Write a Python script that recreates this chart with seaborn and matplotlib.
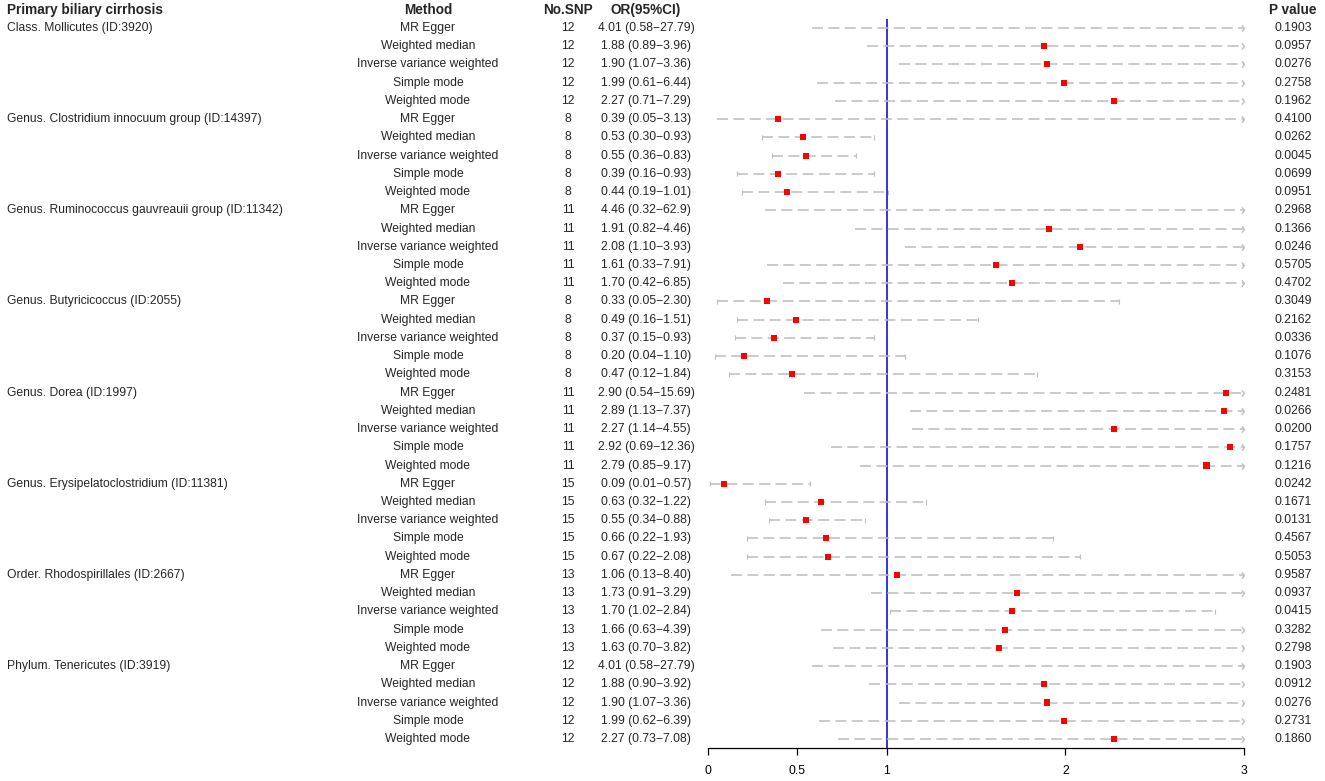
import matplotlib
matplotlib.use("Agg")
import matplotlib.pyplot as plt
import matplotlib.transforms as mtransforms
from matplotlib.path import Path
import numpy as np
import pandas as pd
import seaborn as sns

# ---------------- data ----------------
outcome = "Primary biliary cirrhosis"
groups = ["Class. Mollicutes (ID:3920)",
          "Genus. Clostridium innocuum group (ID:14397)",
          "Genus. Ruminococcus gauvreauii group (ID:11342)",
          "Genus. Butyricicoccus (ID:2055)",
          "Genus. Dorea (ID:1997)",
          "Genus. Erysipelatoclostridium (ID:11381)",
          "Order. Rhodospirillales (ID:2667)",
          "Phylum. Tenericutes (ID:3919)"]
methods = ["MR Egger", "Weighted median", "Inverse variance weighted",
           "Simple mode", "Weighted mode"]
n_snp = [12, 8, 11, 8, 11, 15, 13, 12]

or_val = [4.01, 1.88, 1.90, 1.99, 2.27,
          0.39, 0.53, 0.55, 0.39, 0.44,
          4.46, 1.91, 2.08, 1.61, 1.70,
          0.33, 0.49, 0.37, 0.20, 0.47,
          2.90, 2.89, 2.27, 2.92, 2.79,
          0.09, 0.63, 0.55, 0.66, 0.67,
          1.06, 1.73, 1.70, 1.66, 1.63,
          4.01, 1.88, 1.90, 1.99, 2.27]
ci_lo = [0.58, 0.89, 1.07, 0.61, 0.71,
         0.05, 0.30, 0.36, 0.16, 0.19,
         0.32, 0.82, 1.10, 0.33, 0.42,
         0.05, 0.16, 0.15, 0.04, 0.12,
         0.54, 1.13, 1.14, 0.69, 0.85,
         0.01, 0.32, 0.34, 0.22, 0.22,
         0.13, 0.91, 1.02, 0.63, 0.70,
         0.58, 0.90, 1.07, 0.62, 0.73]
ci_hi = [27.79, 3.96, 3.36, 6.44, 7.29,
         3.13, 0.93, 0.83, 0.93, 1.01,
         62.9, 4.46, 3.93, 7.91, 6.85,
         2.30, 1.51, 0.93, 1.10, 1.84,
         15.69, 7.37, 4.55, 12.36, 9.17,
         0.57, 1.22, 0.88, 1.93, 2.08,
         8.40, 3.29, 2.84, 4.39, 3.82,
         27.79, 3.92, 3.36, 6.39, 7.08]
p_val = [0.1903, 0.0957, 0.0276, 0.2758, 0.1962,
         0.4100, 0.0262, 0.0045, 0.0699, 0.0951,
         0.2968, 0.1366, 0.0246, 0.5705, 0.4702,
         0.3049, 0.2162, 0.0336, 0.1076, 0.3153,
         0.2481, 0.0266, 0.0200, 0.1757, 0.1216,
         0.0242, 0.1671, 0.0131, 0.4567, 0.5053,
         0.9587, 0.0937, 0.0415, 0.3282, 0.2798,
         0.1903, 0.0912, 0.0276, 0.2731, 0.1860]
x_ticks = [0, 0.5, 1, 2, 3]
x_tick_labels = ["0", "0.5", "1", "2", "3"]
col_headers = ["Method", "No.SNP", "OR(95%CI)", "P value"]


def fmt_num(v):
    s = f"{v:.2f}"
    return s if v < 10 or not s.endswith("0") else s.rstrip("0")


rows = []
for gi, g in enumerate(groups):
    for mi, m in enumerate(methods):
        k = gi * 5 + mi
        rows.append(dict(group=g if mi == 0 else "", method=m, nsnp=n_snp[gi],
                         OR=or_val[k], lo=ci_lo[k], hi=ci_hi[k], p=p_val[k],
                         row=k))
df = pd.DataFrame(rows)
df["label"] = [f"{o:.2f} ({fmt_num(l)}\u2212{fmt_num(h)})"
               for o, l, h in zip(df.OR, df.lo, df.hi)]

# ---------------- style ----------------
sns.set_theme(style="white")
plt.rcParams["font.family"] = ["Liberation Sans", "DejaVu Sans"]
plt.rcParams["lines.scale_dashes"] = False

W, H = 1325, 781
fig = plt.figure(figsize=(W / 100, H / 100), dpi=100)

x0_px, x3_px = 708, 1244
axis_px = 748
row0_px, row_step = 28, 18.23
ax = fig.add_axes([x0_px / W, 1 - axis_px / H, (x3_px - x0_px) / W, axis_px / H])
ax.set_xlim(0, 3)
y_top = -row0_px / row_step
y_bot = (axis_px - row0_px) / row_step
ax.set_ylim(y_bot, y_top)
ax.patch.set_alpha(0)

for s in ["top", "left", "right"]:
    ax.spines[s].set_visible(False)
ax.spines["bottom"].set_color("black")
ax.spines["bottom"].set_linewidth(0.9)
ax.set_yticks([])
ax.set_xticks(x_ticks)
ax.set_xticklabels(x_tick_labels, fontsize=8.7)
ax.tick_params(axis="x", direction="out", length=5, width=0.9, color="black",
               pad=7.5, bottom=True, labelcolor="black")

# reference line at 1
ax.plot([1, 1], [y_bot, (19 - row0_px) / row_step], color="#2222E0", lw=1.3,
        zorder=1, solid_capstyle="butt", clip_on=False)

grey = "#BEBEBE"
arrow_path = Path([(-0.8, 1.0), (0, 0), (-0.8, -1.0)],
                  [Path.MOVETO, Path.LINETO, Path.LINETO])
cap_h = 0.14
for r in df.itertuples():
    lo = max(r.lo, 0)
    hi = min(r.hi, 3)
    ax.plot([lo, hi], [r.row, r.row], color=grey, lw=1.15,
            linestyle=(0, (7.9, 3.9)), zorder=2, solid_capstyle="butt",
            dash_capstyle="butt", clip_on=False)
    if r.hi > 3:
        ax.plot([3], [r.row], marker=arrow_path, markersize=4.6,
                markerfacecolor="none", markeredgecolor=grey,
                markeredgewidth=1.0, zorder=2, clip_on=False)
    else:
        ax.vlines([lo, hi], r.row - cap_h, r.row + cap_h, color=grey,
                  lw=0.8, zorder=2)

pts = df[df.OR <= 3]
sns.scatterplot(data=pts, x="OR", y="row", marker="s", s=19, color="#FF0000",
                edgecolor="none", linewidth=0, zorder=3, ax=ax, legend=False)
ax.set_xlabel("")
ax.set_ylabel("")
ax.set_xlim(0, 3)
ax.set_ylim(y_bot, y_top)

# ---------------- text table ----------------
trans = mtransforms.blended_transform_factory(fig.transFigure, ax.transData)
fs = 8.7
hfs = 9.8
hy = (10 - row0_px) / row_step
ax.text(7 / W, hy, outcome, transform=trans, ha="left", va="center",
        fontsize=hfs, fontweight="bold")
col_x = [428, 568, 646, 1293]
for cx, h in zip(col_x, col_headers):
    ax.text(cx / W, hy, h, transform=trans, ha="center", va="center",
            fontsize=hfs, fontweight="bold")

for r in df.itertuples():
    if r.group:
        ax.text(7 / W, r.row, r.group, transform=trans, ha="left",
                va="center", fontsize=fs)
    ax.text(col_x[0] / W, r.row, r.method, transform=trans, ha="center",
            va="center", fontsize=fs)
    ax.text(col_x[1] / W, r.row, str(r.nsnp), transform=trans, ha="center",
            va="center", fontsize=fs)
    ax.text(col_x[2] / W, r.row, r.label, transform=trans, ha="center",
            va="center", fontsize=fs)
    ax.text(col_x[3] / W, r.row, f"{r.p:.4f}", transform=trans, ha="center",
            va="center", fontsize=fs)

fig.savefig("out.png", dpi=100, facecolor="white")
